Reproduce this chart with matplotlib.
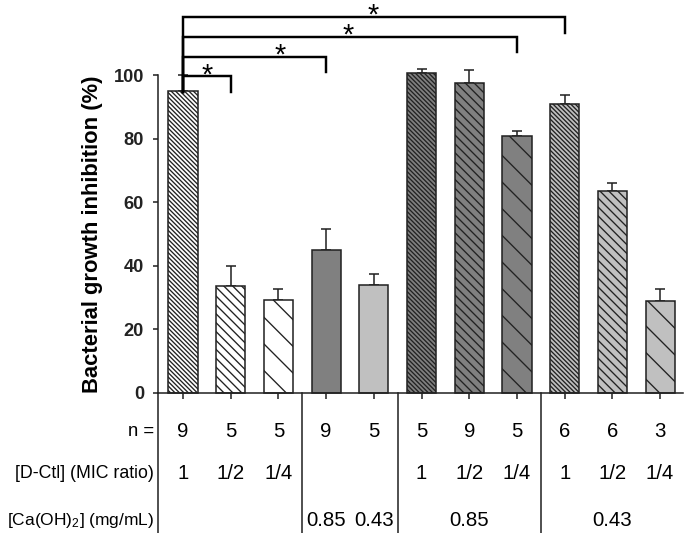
import numpy as np
import matplotlib
matplotlib.use("Agg")
import matplotlib.pyplot as plt

plt.rcParams['font.family'] = ['Liberation Sans', 'DejaVu Sans']
plt.rcParams['mathtext.fontset'] = 'custom'
plt.rcParams['mathtext.rm'] = 'Liberation Sans'
plt.rcParams['mathtext.default'] = 'regular'
plt.rcParams['hatch.linewidth'] = 1.2

# bar values (%) and upper error
values = [95.0, 33.5, 29.2, 45.0, 33.8, 100.8, 97.7, 80.8, 91.0, 63.4, 28.8]
errors = [5.2, 6.3, 3.4, 6.6, 3.7, 1.2, 4.0, 1.7, 2.7, 2.8, 3.8]
colors = ['white', 'white', 'white', '#808080', '#c0c0c0',
          '#808080', '#808080', '#808080', '#c0c0c0', '#c0c0c0', '#c0c0c0']
hatches = ['\\' * 6, '\\' * 3, '\\', '', '',
           '\\' * 6, '\\' * 3, '\\', '\\' * 6, '\\' * 3, '\\']

n_row = ['9', '5', '5', '9', '5', '5', '9', '5', '6', '6', '3']
dctl_row = ['1', '1/2', '1/4', '', '', '1', '1/2', '1/4', '1', '1/2', '1/4']
ca_labels = ['0.85', '0.43', '0.85', '0.43']
ca_pos = [3, 4, 6, 9]
group_sep = [2.5, 4.5, 7.5]

# significance brackets: (left bar, right bar), top y, right-leg bottom, star x
sig_pairs = [(0, 1), (0, 3), (0, 7), (0, 8)]
sig_top = [99.7, 105.9, 112.2, 118.4]
sig_drop = [94.7, 100.9, 107.2, 113.3]
star_x = [0.51, 2.03, 3.47, 3.99]

# low dpi so the hatch cell (one inch) gives the sparse spacing of the original
dpi = 80
fig = plt.figure(figsize=(685 / dpi, 533 / dpi), dpi=dpi)
ax = fig.add_axes([0.2307, 0.2632, 0.7664, 0.5955])

x = np.arange(len(values))
ax.bar(x, values, width=0.61, color=colors, edgecolor='#222222',
       linewidth=1.4, hatch=hatches, zorder=2, clip_on=False)
ax.errorbar(x, values, yerr=[np.zeros(len(errors)), errors], fmt='none',
            ecolor='#222222', elinewidth=1.4, capsize=4.6, capthick=1.4,
            zorder=1, clip_on=False)

ax.set_xlim(-0.524, 10.48)
ax.set_ylim(0, 100)
ax.set_yticks([0, 20, 40, 60, 80, 100])
ax.set_xticks(x)
ax.set_xticklabels([])
ax.tick_params(axis='y', direction='out', length=4.6, width=1.4, pad=8,
               labelsize=16.4, colors='#222222')
ax.tick_params(axis='x', direction='out', length=5, width=1.4, colors='#222222')
for lab in ax.get_yticklabels():
    lab.set_fontweight('bold')
for s in ['top', 'right']:
    ax.spines[s].set_visible(False)
for s in ['left', 'bottom']:
    ax.spines[s].set_linewidth(1.4)
    ax.spines[s].set_color('#222222')

ax.set_ylabel('Bacterial growth inhibition (%)', fontsize=19.8,
              fontweight='bold', labelpad=10)

# brackets
for (a, b), top, drop, sx in zip(sig_pairs, sig_top, sig_drop, star_x):
    ax.plot([a, a, b, b], [sig_drop[0], top, top, drop], color='black',
            lw=2.2, clip_on=False, solid_joinstyle='miter')
    ax.text(sx, top - 2.2, '*', ha='center', va='baseline', fontsize=26,
            clip_on=False)

# table below the axis
ybot = -44.5
ax.plot([-0.524, -0.524], [0, ybot], color='#222222', lw=1.4, clip_on=False)
for g in group_sep:
    ax.plot([g, g], [0, ybot], color='#222222', lw=1.4, clip_on=False)

row_y = [-12.2, -25.3, -40.4]
ax.text(-0.61, row_y[0], 'n =', ha='right', va='center', fontsize=16.6)
ax.text(-0.61, row_y[1], '[D-Ctl] (MIC ratio)', ha='right', va='center', fontsize=16.0)
ax.text(-0.61, row_y[2], '[Ca(OH)$_2$] (mg/mL)', ha='right', va='center', fontsize=15.6)
for i in x:
    ax.text(i, row_y[0], n_row[i], ha='center', va='center', fontsize=18.4)
    if dctl_row[i]:
        ax.text(i, row_y[1], dctl_row[i], ha='center', va='center', fontsize=18.4)
for p, lab in zip(ca_pos, ca_labels):
    ax.text(p, row_y[2], lab, ha='center', va='center', fontsize=18.4)

fig.savefig('out.png', dpi=dpi)
